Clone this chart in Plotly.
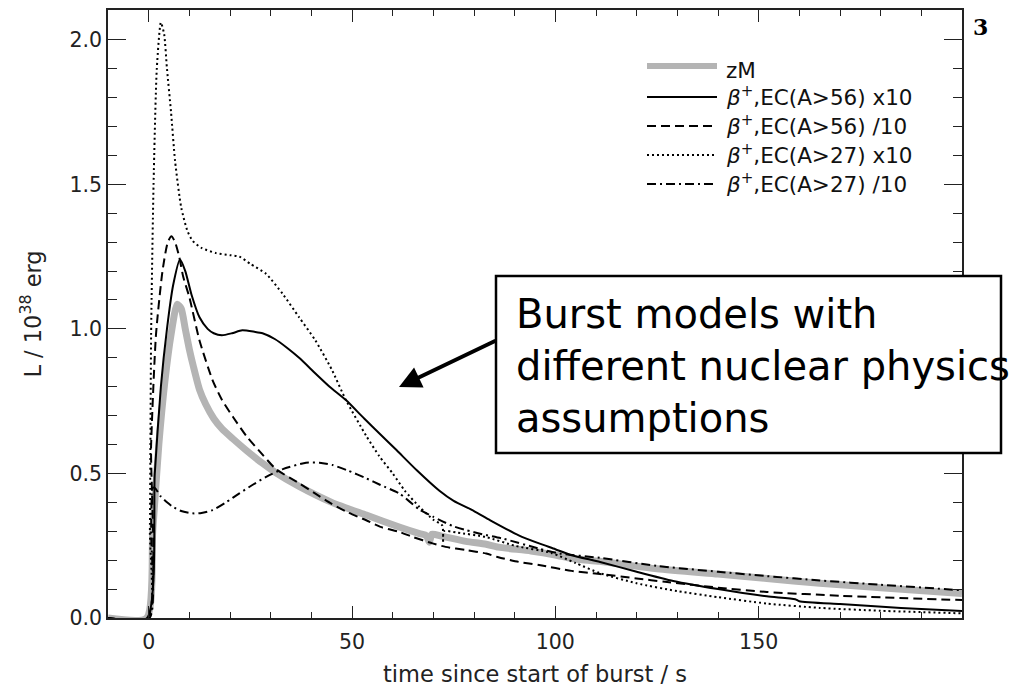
import plotly.graph_objects as go

# ---------------- data ----------------
zm_t = [-10, -0.5, 1, 2.5, 4, 5.5, 7, 8, 9, 10, 11, 12.5, 14, 16, 18, 20.7, 24, 28, 31, 37, 45, 53.5,
        61.6, 66.6, 68.3, 69, 69.7, 72, 78, 83, 86, 94, 100, 104, 111, 125, 140, 152, 165, 180, 200]
zm_L = [0, 0, 0.3, 0.6, 0.82, 0.98, 1.085, 1.07, 1.0, 0.93, 0.87, 0.79, 0.74, 0.69, 0.655, 0.62, 0.58,
        0.535, 0.505, 0.455, 0.40, 0.356, 0.315, 0.292, 0.285, 0.262, 0.29, 0.283, 0.265, 0.255, 0.245,
        0.232, 0.218, 0.206, 0.196, 0.17, 0.152, 0.137, 0.12, 0.105, 0.085]

a56x10_t = [-10, -0.4, 1.5, 3, 4.5, 6, 7.7, 9, 10.5, 12.5, 14.5, 16, 18, 20.5, 23, 26, 28, 31, 34, 37,
            41, 44.5, 48.5, 53, 57, 61, 66, 71.5, 75, 80, 84, 91, 96, 100, 104, 111, 120, 129, 140,
            152, 159, 160, 170, 185, 200]
a56x10_L = [0, 0, 0.5, 0.8, 1.0, 1.15, 1.24, 1.2, 1.12, 1.04, 1.0, 0.985, 0.978, 0.985, 0.995, 0.99,
            0.985, 0.965, 0.935, 0.9, 0.846, 0.8, 0.754, 0.69, 0.635, 0.58, 0.51, 0.44, 0.405, 0.37,
            0.338, 0.286, 0.258, 0.238, 0.217, 0.194, 0.16, 0.128, 0.1, 0.075, 0.065, 0.058, 0.048,
            0.035, 0.024]

a56d10_t = [-10, -0.3, 0.6, 1.8, 3.4, 4.7, 5.6, 6.5, 7.5, 8.5, 10, 12.5, 15.7, 18, 20.7, 24, 28, 31.3,
            37, 41, 45, 49, 53.5, 57, 61.6, 65, 69.8, 73, 78, 83, 86, 91, 96, 104, 111, 120, 127, 140,
            152, 170, 200]
a56d10_L = [0, 0, 0.6, 0.98, 1.2, 1.3, 1.32, 1.3, 1.25, 1.18, 1.11, 0.96, 0.823, 0.755, 0.696, 0.63,
            0.565, 0.515, 0.466, 0.43, 0.395, 0.365, 0.338, 0.315, 0.298, 0.28, 0.258, 0.246, 0.235,
            0.223, 0.21, 0.194, 0.183, 0.163, 0.152, 0.137, 0.125, 0.105, 0.09, 0.077, 0.062]

a27x10_t = [-10, 0, 0.3, 0.6, 1.2, 2, 3, 3.8, 4.5, 5.5, 6.5, 8, 9.5, 10.8, 13, 16.6, 20, 22.3, 25, 28.9,
            33, 37, 41, 45, 48.5, 53.5, 56.7, 60, 63, 66.6, 70, 72.2, 72.4, 72.6, 76, 83, 90, 99, 105,
            111, 120, 130, 140, 152, 165, 180, 200]
a27x10_L = [0, 0, 0.3, 0.98, 1.5, 1.9, 2.06, 2.02, 1.9, 1.75, 1.58, 1.42, 1.34, 1.305, 1.28, 1.262,
            1.255, 1.25, 1.225, 1.19, 1.12, 1.04, 0.96, 0.86, 0.754, 0.63, 0.56, 0.5, 0.44, 0.384,
            0.34, 0.32, 0.26, 0.3, 0.295, 0.28, 0.25, 0.225, 0.19, 0.155, 0.12, 0.093, 0.072, 0.05,
            0.035, 0.025, 0.016]

a27d10_t = [-10, 0.2, 0.6, 1, 1.5, 3, 4.5, 5.9, 8, 10.8, 13, 15.7, 19, 22.3, 25.5, 28.9, 33, 38.7, 42,
            45.2, 49, 53.5, 57, 61.6, 66.6, 70, 74.8, 78, 82, 87, 96, 101, 111, 125, 140, 152, 165,
            180, 200]
a27d10_L = [0, 0, 0.3, 0.45, 0.45, 0.42, 0.4, 0.385, 0.37, 0.362, 0.363, 0.373, 0.4, 0.431, 0.46,
            0.488, 0.515, 0.537, 0.537, 0.529, 0.51, 0.483, 0.46, 0.431, 0.375, 0.35, 0.318, 0.304,
            0.29, 0.275, 0.24, 0.223, 0.208, 0.18, 0.16, 0.145, 0.13, 0.115, 0.096]

legend_labels = ["zM",
                 "<i>β</i><sup>+</sup>,EC(A&gt;56) x10",
                 "<i>β</i><sup>+</sup>,EC(A&gt;56) /10",
                 "<i>β</i><sup>+</sup>,EC(A&gt;27) x10",
                 "<i>β</i><sup>+</sup>,EC(A&gt;27) /10"]

x_ticks = [0, 50, 100, 150]
y_ticks = [0.0, 0.5, 1.0, 1.5, 2.0]

GRAY = "#b4b4b4"
BLK = "#000000"
styles = [
    dict(color=GRAY, width=7, dash="solid"),
    dict(color=BLK, width=2, dash="solid"),
    dict(color=BLK, width=2, dash="9px,5px"),
    dict(color=BLK, width=2, dash="2px,3px"),
    dict(color=BLK, width=2, dash="9px,4px,2px,4px"),
]
series = [(zm_t, zm_L), (a56x10_t, a56x10_L), (a56d10_t, a56d10_L), (a27x10_t, a27x10_L), (a27d10_t, a27d10_L)]

fig = go.Figure()
for (t, L), st, name in zip(series, styles, legend_labels):
    fig.add_trace(go.Scatter(x=t, y=L, mode="lines", name=name, showlegend=False,
                             line=dict(**st, shape="spline", smoothing=0.6)))

# plot-area geometry in pixels
W, H = 1011, 687
ML, MR, MT, MB = 108, 49, 10, 69
PW, PH = W - ML - MR, H - MT - MB

def px(x):
    return (x - ML) / PW

def py(y):
    return (H - MB - y) / PH

shapes = []
annotations = []

# custom legend
row_y = [66, 97, 126, 155, 184]
text_y = [70, 96, 125, 154, 183]
for i, (st, lab) in enumerate(zip(styles, legend_labels)):
    shapes.append(dict(type="line", xref="paper", yref="paper", x0=px(647), x1=px(717),
                       y0=py(row_y[i]), y1=py(row_y[i]),
                       line=dict(color=st["color"], width=st["width"] if i else 6, dash=st["dash"])))
    annotations.append(dict(xref="paper", yref="paper", x=px(724), y=py(text_y[i]), text=lab,
                            showarrow=False, xanchor="left", yanchor="middle",
                            font=dict(family="DejaVu Sans", size=21.5, color="#111")))

# text box
shapes.append(dict(type="rect", xref="paper", yref="paper", x0=px(496), x1=px(1001),
                   y0=py(453), y1=py(276), line=dict(color="black", width=2.5),
                   fillcolor="white", layer="above"))
annotations.append(dict(xref="paper", yref="paper", x=px(514), y=py(366),
                        text="Burst models with<br>different nuclear physics<br>assumptions",
                        showarrow=False, xanchor="left", yanchor="middle", align="left",
                        font=dict(family="DejaVu Sans", size=40, color="black")))
# arrow
annotations.append(dict(xref="paper", yref="paper", x=px(399), y=py(387), text="",
                        showarrow=True, ax=98, ay=-47, arrowhead=2, arrowsize=1.1,
                        arrowwidth=4, arrowcolor="black"))
# partial panel label
annotations.append(dict(xref="paper", yref="paper", x=px(981), y=py(27), text="<b>3</b>",
                        showarrow=False, xanchor="center", yanchor="middle",
                        font=dict(family="DejaVu Serif", size=22, color="black")))

axis_common = dict(showline=True, linecolor="#222", linewidth=1.5, mirror="ticks",
                   ticks="inside", tickcolor="#222", tickwidth=1.2, showgrid=False, zeroline=False,
                   tickfont=dict(family="DejaVu Sans", size=20.5, color="#222"))

fig.update_layout(
    width=W, height=H,
    margin=dict(l=ML, r=MR, t=MT, b=MB, autoexpand=False),
    paper_bgcolor="white", plot_bgcolor="white",
    shapes=shapes, annotations=annotations,
    xaxis=dict(range=[-10, 200], tickvals=x_ticks, ticklen=12, ticklabelstandoff=5,
               minor=dict(dtick=10, tick0=0, ticks="inside", ticklen=6, tickcolor="#222"),
               title=dict(text="time since start of burst / s", standoff=14,
                          font=dict(family="DejaVu Sans", size=22.5, color="#222")),
               **axis_common),
    yaxis=dict(range=[0, 2.103], tickvals=y_ticks, tickformat=".1f", ticklen=18,
               minor=dict(dtick=0.1, tick0=0, ticks="inside", ticklen=9, tickcolor="#222"),
               title=dict(text="L / 10<sup>38</sup> erg", standoff=22,
                          font=dict(family="DejaVu Sans", size=22.5, color="#222")),
               **axis_common),
)

fig.write_html("out.html")
